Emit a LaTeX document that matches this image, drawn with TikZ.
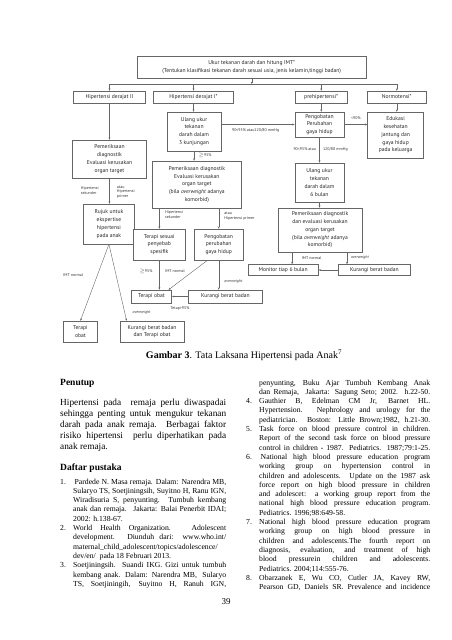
\documentclass[tikz,border=0pt]{standalone}
\usepackage{fontspec}
\setmainfont{Liberation Serif}
\newfontfamily\diafont{PT Sans}
\usetikzlibrary{arrows.meta}
\newcounter{tln}
\def\ry{0}
\def\rstep{9.3}
\newcommand\advry{\pgfmathparse{\ry+\rstep}\xdef\ry{\pgfmathresult}}
\newcommand\Lj[3]{\stepcounter{tln}\node[reftxt] (t\arabic{tln}) at (#1,\ry) {\makebox[#2pt][s]{#3}};\advry}
\newcommand\Ln[2]{\stepcounter{tln}\node[reftxt] (t\arabic{tln}) at (#1,\ry) {#2};\advry}
\newcommand\Num[2]{\stepcounter{tln}\node[reftxt] (t\arabic{tln}) at (#1,\ry) {#2};}
\newcommand\Pj[3]{\stepcounter{tln}\node[paratxt] (t\arabic{tln}) at (#1,\ry) {\makebox[#2pt][s]{#3}};\advry}
\newcommand\Pn[2]{\stepcounter{tln}\node[paratxt] (t\arabic{tln}) at (#1,\ry) {#2};\advry}
\def\kx{1.12}
\newcommand\bx[6]{\node[box, minimum width=\kx*#4pt, minimum height=#5pt] (#1) at (#2,#3) {#6};}
\begin{document}
\begin{tikzpicture}[x=1pt,y=-1pt,
 box/.style={draw=black!60, line width=0.45pt, fill=white, inner sep=0pt, align=center,
   font=\diafont\fontsize{5.6}{7.8}\selectfont, text=black!85},
 lbl/.style={font=\diafont\fontsize{4}{4.8}\selectfont, inner sep=0pt, align=left, text=black!80},
 arr/.style={draw=black!60, line width=0.4pt, -{Stealth[length=2.4pt,width=1.9pt]}},
 ln/.style={draw=black!60, line width=0.4pt},
 reftxt/.style={anchor=base west, inner sep=0pt, font=\fontsize{7.7}{9.3}\selectfont},
 paratxt/.style={anchor=base west, inner sep=0pt, font=\fontsize{9.3}{11}\selectfont},
]
\useasboundingbox[fill=white] (0,0) rectangle (452,640);

\begin{scope}[xshift=-10.92pt, xscale=\kx]
% ---------- row 1 and 2
\bx{top}{234.5}{67.5}{205}{22}{Ukur tekanan darah dan hitung IMT*\\(Tentukan klasifikasi tekanan darah sesuai usia, jenis kelamin,tinggi badan)}
\bx{hdii}{107.5}{97}{64}{12}{Hipertensi derajat II}
\bx{hdi}{182.5}{97}{71}{12}{Hipertensi derajat I*}
\bx{pre}{296.5}{97}{47}{12}{prehipertensi*}
\bx{nor}{364}{97}{52}{12}{Normotensi*}
\coordinate (bus) at (0,84);
\draw[arr] (top.south) -- (top.south |- bus);
\draw[ln] (hdii.north |- bus) -- (nor.north |- bus);
\foreach \n in {hdii,hdi,pre,nor} \draw[arr] (\n.north |- bus) -- (\n.north);

% ---------- third row
\bx{ulg}{183}{131.5}{48}{39}{Ulang ukur\\tekanan\\darah dalam\\3 kunjungan}
\bx{pga}{295}{124.5}{44}{25}{Pengobatan\\Perubahan\\gaya hidup}
\bx{edu}{363}{135}{50}{46}{Edukasi\\kesehatan\\jantung dan\\gaya hidup\\pada keluarga}
\draw[arr] (hdi.south) -- (hdi.south |- ulg.north);
\draw[arr] (pre.south) -- (pre.south |- pga.north);
\draw[arr] (nor.south) -- (nor.south |- edu.north);
\draw[arr] (ulg.east |- pga.west) -- (pga.west);
\node[lbl] (l1) at (238,130.5) {90<95\% atau120/80 mmHg};
\draw[arr] (pga.east) -- (pga.east -| edu.west);
\node[lbl] (l2) at (327.5,118.5) {<90\%};

% ---------- left column
\bx{pma}{107.5}{159}{66}{38}{Pemeriksaan\\diagnostik\\Evaluasi kerusakan\\organ target}
\bx{rjk}{107}{224}{46}{40}{Rujuk untuk\\ekspertise\\hipertensi\\pada anak}
\draw[arr] (hdii.south) -- (hdii.south |- pma.north);
\draw[arr] (pma.south) -- (pma.south |- rjk.north);
\node[lbl, anchor=east] (l3) at (98,190.5) {Hipertensi\\sekunder};
\node[lbl, anchor=west] (l4) at (114,192) {atau\\Hipertensi\\primer};
\bx{tobb}{81.5}{331.5}{31}{21}{Terapi\\obat}
\bx{kbt}{145.5}{331.5}{57}{21}{Kurangi berat badan\\dan Terapi obat}
\draw[arr] (rjk.south) -- (tobb.north);
\draw[arr] (rjk.south) -- ([xshift=6pt]kbt.north west);
\node[lbl] (l5) at (75,275) {IMT normal};
\node[lbl, anchor=west] (l6) at (128,313) {\itshape overweight};

% ---------- derajat I column
\bx{pmb}{185.5}{184.5}{79}{47}{Pemeriksaan diagnostik\\Evaluasi kerusakan\\organ target\\(bila \textit{overweight} adanya\\komorbid)}
\draw[arr] (ulg.south) -- (ulg.south |- pmb.north);
\node[lbl, anchor=west] (l7) at (187,155.5) {$\geq$95\%};
\bx{tss}{152}{244.5}{46}{31}{Terapi sesuai\\penyebab\\spesifik}
\bx{pgb}{205}{244.5}{44}{31}{Pengobatan\\perubahan\\gaya hidup}
\draw[arr] (tss.north |- pmb.south) -- (tss.north);
\draw[arr] (pgb.north |- pmb.south) -- (pgb.north);
\node[lbl, anchor=west] (l8) at (157,215) {Hipertensi\\sekunder};
\node[lbl, anchor=west] (l9) at (210,216.5) {atau\\Hipertensi primer};
\bx{tob}{145}{296.5}{36}{13}{Terapi obat}
\bx{kbm}{211}{296.5}{66}{13}{Kurangi berat badan}
\draw[arr] (tss.south) -- (tss.south |- tob.north);
\draw[arr] ([xshift=-10pt]pgb.south) -- ([xshift=-3pt]tob.north east);
\draw[arr] (pgb.south) -- (pgb.south |- kbm.north);
\draw[arr] (kbm.west) -- (tob.east);
\node[lbl, anchor=east] (l10) at (146,271) {$\geq$95\%};
\node[lbl, anchor=west] (l11) at (157,271) {IMT normal};
\node[lbl, anchor=west] (l12) at (210,282) {\itshape overweight};
\node[lbl, anchor=west] (l13) at (162,308) {Tetap>95\%};

% ---------- prehipertensi column
\bx{ul6}{295}{182.5}{44}{39}{Ulang ukur\\tekanan\\darah dalam\\6 bulan}
\draw[arr] (pga.south) -- (pga.south |- ul6.north);
\node[lbl, anchor=east] (l14) at (292,149) {90<95\% atau};
\node[lbl, anchor=west] (l15) at (298,149) {120/80 mmHg};
\bx{pmc}{295.5}{230}{75}{44}{Pemeriksaan diagnostik\\dan evaluasi kerusakan\\organ target\\(bila \textit{overweight} adanya\\komorbid)}
\draw[arr] (ul6.south) -- (ul6.south |- pmc.north);
\bx{mon}{262.5}{270}{63}{11}{Monitor tiap 6 bulan}
\bx{kbr}{344}{270}{64}{11}{Kurangi berat badan}
\draw[arr] ([xshift=-25pt]pmc.south) -- ([xshift=-25pt]pmc.south |- mon.north);
\draw[arr] ([xshift=24pt]pmc.south) -- ([xshift=24pt]pmc.south |- kbr.north);
\node[lbl, anchor=west] (l16) at (279,258) {IMT normal};
\node[lbl, anchor=west] (l17) at (323,258) {\itshape overweight};
\draw[arr] (kbr.west) -- (mon.east);
\end{scope}

% ---------- caption
\node[anchor=base, inner sep=0pt, font=\fontsize{10}{12}\selectfont] (cap) at (244,358)
  {\textbf{Gambar 3}. Tata Laksana Hipertensi pada Anak\textsuperscript{7}};

% ---------- left text column
\node[anchor=base west, inner sep=0pt, font=\bfseries\fontsize{9.5}{11}\selectfont] (h1) at (60,385) {Penutup};
\def\ry{405}\def\rstep{11}
\Pj{60}{166}{Hipertensi pada \ remaja perlu diwaspadai}
\Pj{60}{166}{sehingga penting untuk mengukur tekanan}
\Pj{60}{166}{darah pada anak remaja. Berbagai faktor}
\Pj{60}{166}{risiko hipertensi \ perlu diperhatikan pada}
\Pn{60}{anak remaja.}
\node[anchor=base west, inner sep=0pt, font=\bfseries\fontsize{9.5}{11}\selectfont] (h2) at (60,470) {Daftar pustaka};
\def\ry{484}\def\rstep{9.3}
\Num{60}{1.}\Lj{73}{153}{\hspace{1.5pt}Pardede N. Masa remaja. Dalam: Narendra MB,}
\Lj{73}{153}{Sularyo TS, Soetjiningsih, Suyitno H, Ranu IGN,}
\Lj{73}{153}{Wiradisuria S, penyunting. Tumbuh kembang}
\Lj{73}{153}{anak dan remaja. \ Jakarta: Balai Penerbit IDAI;}
\Ln{73}{2002: h.138-67.}
\Num{60}{2.}\Lj{73}{153}{World Health Organization. Adolescent}
\Lj{73}{153}{development. Diunduh dari: www.who.int/}
\Ln{73}{maternal\_child\_adolescent/topics/adolescence/}
\Ln{73}{dev/en/ \ pada 18 Februari 2013.}
\Num{60}{3.}\Lj{73}{153}{Soetjiningsih. Suandi IKG. Gizi untuk tumbuh}
\Lj{73}{153}{kembang anak. Dalam: Narendra MB, \ Sularyo}
\Lj{73}{153}{TS, Soetjiningih, Suyitno H, Ranuh IGN,}

% ---------- right text column
\def\ry{385}\def\rstep{9.3}
\Lj{259}{171}{penyunting, Buku Ajar Tumbuh Kembang Anak}
\Lj{259}{171}{dan Remaja, \ Jakarta: Sagung Seto; 2002. h.22-50.}
\Num{246}{4.}\Lj{259}{171}{Gauthier B, Edelman CM Jr, Barnet HL.}
\Lj{259}{171}{Hypertension. Nephrology and urology for the}
\Lj{259}{171}{pediatrician. Boston: Little Brown;1982, h.21-30.}
\Num{246}{5.}\Lj{259}{171}{Task force on blood pressure control in children.}
\Lj{259}{171}{Report of the second task force on blood pressure}
\Lj{259}{171}{control in children - 1987. Pediatrics. 1987;79:1-25.}
\Num{246}{6.}\Lj{259}{171}{\hspace{1.5pt}National high blood pressure education program}
\Lj{259}{171}{working group on hypertension control in}
\Lj{259}{171}{children and adolescents. Update on the 1987 ask}
\Lj{259}{171}{force report on high blood pressure in children}
\Lj{259}{171}{and adolescet: a working group report from the}
\Lj{259}{171}{national high blood pressure education program.}
\Ln{259}{Pediatrics. 1996;98:649-58.}
\Num{246}{7.}\Lj{259}{171}{National high blood pressure education program}
\Lj{259}{171}{working group on high blood pressure in}
\Lj{259}{171}{children and adolescents.The fourth report on}
\Lj{259}{171}{diagnosis, evaluation, and treatment of high}
\Lj{259}{171}{blood pressurein children and adolescents.}
\Ln{259}{Pediatrics. 2004;114:555-76.}
\Num{246}{8.}\Lj{259}{171}{Obarzanek E, Wu CO, Cutler JA, Kavey RW,}
\Lj{259}{171}{Pearson GD, Daniels SR. Prevalence and incidence}

\node[anchor=base, inner sep=0pt, font=\fontsize{9}{10}\selectfont] (pg) at (226,604) {39};
\end{tikzpicture}
\end{document}
